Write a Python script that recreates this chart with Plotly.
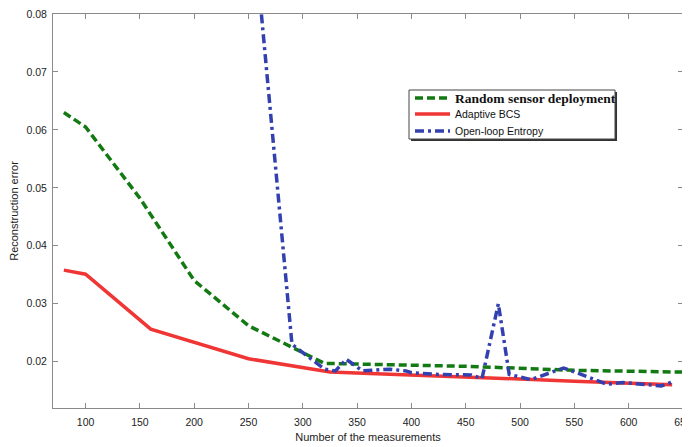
import plotly.graph_objects as go

# Random sensor deployment
rand_x = [80, 100, 150, 200, 250, 320, 450, 550, 650]
rand_y = [0.0630, 0.0605, 0.0482, 0.0340, 0.0262, 0.0197, 0.0192, 0.0185, 0.0182]

# Adaptive BCS
bcs_x = [80, 100, 160, 250, 325, 450, 500, 550, 600, 640]
bcs_y = [0.0358, 0.0351, 0.0256, 0.0205, 0.0182, 0.0174, 0.0170, 0.0166, 0.0162, 0.0160]

# Open-loop Entropy
ent_x = [250, 290, 320, 330, 340, 355, 380, 395, 400, 425, 455, 465, 480, 490, 510,
         540, 555, 580, 595, 630, 640]
ent_y = [0.1040, 0.0230, 0.0187, 0.0184, 0.0204, 0.0184, 0.0187, 0.0184, 0.0181, 0.0178,
         0.0177, 0.0171, 0.0300, 0.0178, 0.0169, 0.0189, 0.0179, 0.0161, 0.0164, 0.0158, 0.0165]

x_ticks = [100, 150, 200, 250, 300, 350, 400, 450, 500, 550, 600, 650]
y_ticks = [0.02, 0.03, 0.04, 0.05, 0.06, 0.07, 0.08]

names = ["Random sensor deployment", "Adaptive BCS", "Open-loop Entropy"]
colors = ["#137a13", "#f03535", "#3340b0"]
dashes = ["8px,4px", "solid", "9px,4px,3px,4px"]

fig = go.Figure()
for xs, ys, nm, c, d in zip([rand_x, bcs_x, ent_x], [rand_y, bcs_y, ent_y], names, colors, dashes):
    fig.add_trace(go.Scatter(x=xs, y=ys, mode="lines", name=nm,
                             line=dict(color=c, width=3.5, dash=d), showlegend=False))

axis_common = dict(
    showline=True, linecolor="#8a8a8a", linewidth=1, mirror="ticks",
    ticks="inside", ticklen=5, tickcolor="#8a8a8a",
    showgrid=False, zeroline=False, automargin=False,
    ticklabeloverflow="allow",
    tickfont=dict(family="Arial, Liberation Sans", size=10.5, color="#222"),
)

# ---- custom legend box (compact, with shadow on right/bottom) ----
bx0, bx1, by0, by1 = 0.5651, 0.8921, 0.6827, 0.8071
sx, sy = 2 / 630, 2 / 394
fig.add_shape(type="rect", xref="paper", yref="paper",
              x0=bx0 + sx, x1=bx1 + sx, y0=by0 - sy, y1=by1 - sy,
              fillcolor="#333", line=dict(width=0), layer="above")
fig.add_shape(type="rect", xref="paper", yref="paper",
              x0=bx0, x1=bx1, y0=by0, y1=by1,
              fillcolor="white", line=dict(color="#444", width=1), layer="above")
entry_y = [0.7868, 0.7462, 0.7030]
lx0, lx1, tx = 0.5746, 0.6302, 0.6349
label_html = [
    "<span style='font-family:Liberation Serif;font-weight:bold'>Random sensor deployment</span>",
    "Adaptive BCS",
    "Open-loop Entropy",
]
label_size = [13.5, 10.5, 10.5]
for ey, c, d, lab, fs in zip(entry_y, colors, dashes, label_html, label_size):
    fig.add_shape(type="line", xref="paper", yref="paper", x0=lx0, x1=lx1, y0=ey, y1=ey,
                  line=dict(color=c, width=3.5, dash=d), layer="above")
    fig.add_annotation(xref="paper", yref="paper", x=tx, y=ey, text=lab, showarrow=False,
                       xanchor="left", yanchor="middle",
                       font=dict(family="Arial, Liberation Sans", size=fs, color="#111"))

fig.update_layout(
    width=682, height=439,
    margin=dict(l=45, r=7, t=6, b=39),
    paper_bgcolor="white", plot_bgcolor="white",
    font=dict(family="Arial, Liberation Sans", size=11, color="#222"),
    xaxis=dict(range=[70, 650.01], tickvals=x_ticks, ticklabelstandoff=4,
               title=dict(text="Number of the measurements", standoff=6,
                          font=dict(size=11, color="#222")),
               **axis_common),
    yaxis=dict(range=[0.012, 0.08], tickvals=y_ticks, tickformat=".2f", ticklabelstandoff=3,
               title=dict(text="Reconstruction error", standoff=7,
                          font=dict(size=11, color="#222")),
               **axis_common),
    showlegend=False,
)

fig.write_html("out.html")
